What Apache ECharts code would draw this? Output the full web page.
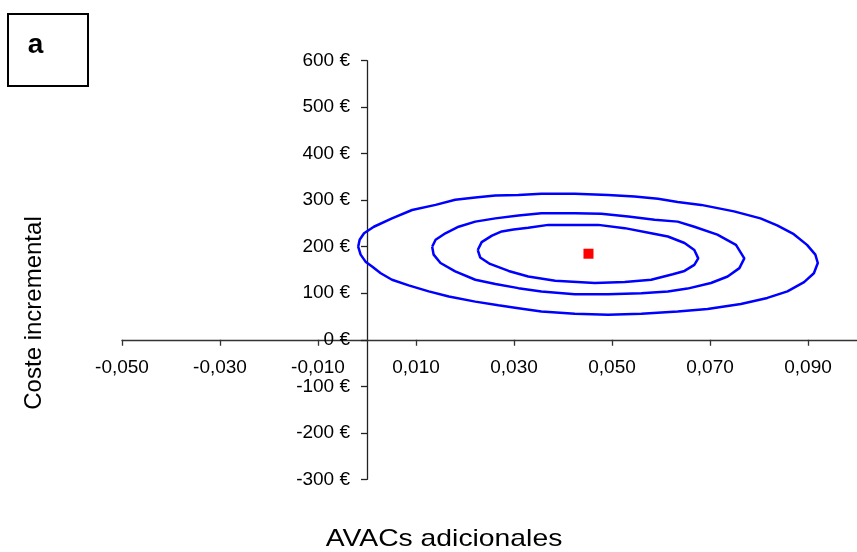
<!DOCTYPE html>
<html>
<head>
<meta charset="utf-8">
<script src="https://cdn.jsdelivr.net/npm/echarts@6/dist/echarts.min.js"></script>
<style>
html,body{margin:0;padding:0;background:#fff;}
#chart{width:857px;height:552px;}
</style>
</head>
<body>
<div id="chart"></div>
<script>
// Point estimate (incremental effect, incremental cost)
var pointEstimate = [[0.0452, 185]];

// Confidence contours: [AVACs, cost]
var outerContour = [
  [-0.0018,200],[-0.0015,215],[-0.0006,229],[0.0014,243],[0.0051,261],[0.0092,279],
  [0.0140,290],[0.0180,301],[0.0221,306],[0.0262,310],[0.0309,311],[0.0356,314],
  [0.0424,314],[0.0492,311],[0.0546,308],[0.0594,303],[0.0634,296],[0.0682,290],
  [0.0749,276],[0.0803,261],[0.0837,246],[0.0871,227],[0.0898,204],[0.0915,183],
  [0.0920,165],[0.0912,143],[0.0892,124],[0.0858,104],[0.0817,90],[0.0763,77],
  [0.0695,66],[0.0634,61],[0.0560,56],[0.0492,54],[0.0424,56],[0.0356,61],
  [0.0309,68],[0.0268,74],[0.0221,82],[0.0167,93],[0.0126,104],[0.0085,117],
  [0.0051,129],[0.0028,143],[0.0011,157],[-0.0003,168],[-0.0013,183],[-0.0018,200]
];
var middleContour = [
  [0.0133,200],[0.0140,215],[0.0160,229],[0.0187,243],[0.0221,254],[0.0262,261],
  [0.0309,267],[0.0356,272],[0.0424,272],[0.0478,271],[0.0533,265],[0.0587,258],
  [0.0634,254],[0.0668,243],[0.0715,226],[0.0753,204],[0.0770,175],[0.0760,154],
  [0.0736,136],[0.0702,122],[0.0654,110],[0.0614,104],[0.0560,100],[0.0492,98],
  [0.0424,98],[0.0356,104],[0.0309,111],[0.0262,120],[0.0221,129],[0.0180,147],
  [0.0150,165],[0.0136,183],[0.0133,200]
];
var innerContour = [
  [0.0226,193],[0.0234,210],[0.0255,224],[0.0275,233],[0.0299,237],[0.0329,241],
  [0.0370,247],[0.0424,247],[0.0472,247],[0.0526,240],[0.0580,229],[0.0614,222],
  [0.0648,208],[0.0668,193],[0.0676,175],[0.0668,161],[0.0648,148],[0.0624,141],
  [0.0580,129],[0.0526,124],[0.0465,122],[0.0384,127],[0.0329,136],[0.0289,148],
  [0.0251,163],[0.0231,177],[0.0226,193]
];

// Axis settings / texts
var xMin = -0.05, xMax = 0.1, xStep = 0.02;
var yMin = -300, yMax = 600, yStep = 100;
var xTitle = 'AVACs adicionales';
var yTitle = 'Coste incremental';
var panelLabel = 'a';

var FONT = '"Liberation Sans", Arial, sans-serif';
var W = 857, H = 552;
var gLeft = 122, gRight = 0, gTop = 60.7, gBottom = 72.7;
var gW = W - gLeft - gRight, gH = H - gTop - gBottom;
// axes cross at zero: shift each axis inward to the other axis' zero
var yAxisOffset = -gW * (0 - xMin) / (xMax - xMin);
var xAxisOffset = -gH * (0 - yMin) / (yMax - yMin);

var chart = echarts.init(document.getElementById('chart'), null, {renderer:'canvas'});

function lineSeries(data){
  return {
    type:'line', data:data, symbol:'none', smooth:false, silent:true,
    lineStyle:{color:'#0000ff', width:2.5}, z:3
  };
}

chart.setOption({
  animation:false,
  backgroundColor:'#ffffff',
  grid:{left:gLeft, right:gRight, top:gTop, bottom:gBottom, containLabel:false},
  xAxis:{
    type:'value', min:xMin, max:xMax, interval:xStep, position:'bottom', offset:xAxisOffset,
    axisLine:{onZero:false, lineStyle:{color:'#333333', width:1.3}},
    axisTick:{show:true, inside:false, length:6, lineStyle:{color:'#333333', width:1.3}},
    splitLine:{show:false},
    axisLabel:{
      showMaxLabel:false, margin:18, color:'#000', fontSize:19, fontFamily:FONT,
      formatter:function(v){ return v.toFixed(3).replace('.', ','); }
    }
  },
  yAxis:{
    type:'value', min:yMin, max:yMax, interval:yStep, position:'left', offset:yAxisOffset,
    axisLine:{onZero:false, lineStyle:{color:'#222222', width:1.3}},
    axisTick:{show:true, inside:false, length:6, lineStyle:{color:'#222222', width:1.3}},
    splitLine:{show:false},
    axisLabel:{
      margin:17, color:'#000', fontSize:19, fontFamily:FONT,
      formatter:function(v){ return v + ' €'; }
    }
  },
  series:[
    lineSeries(outerContour),
    lineSeries(middleContour),
    lineSeries(innerContour),
    {
      type:'scatter', data:pointEstimate, symbol:'rect', symbolSize:10,
      itemStyle:{color:'#ff0000', opacity:1}, z:5, silent:true
    }
  ],
  graphic:[
    {type:'rect', left:7, top:13, shape:{width:80, height:72},
     style:{fill:'#fff', stroke:'#000', lineWidth:2}},
    {type:'text', x:35.5, y:45, style:{text:panelLabel, font:'bold 28px ' + FONT, fill:'#000', align:'center', verticalAlign:'middle'}},
    {type:'text', x:444, y:539, style:{text:xTitle, font:'24px ' + FONT, fill:'#000', align:'center', verticalAlign:'middle'}, scaleX:1.18},
    {type:'text', x:34, y:313, rotation:Math.PI/2, style:{text:yTitle, font:'24px ' + FONT, fill:'#000', align:'center', verticalAlign:'middle'}}
  ]
});
</script>
</body>
</html>
